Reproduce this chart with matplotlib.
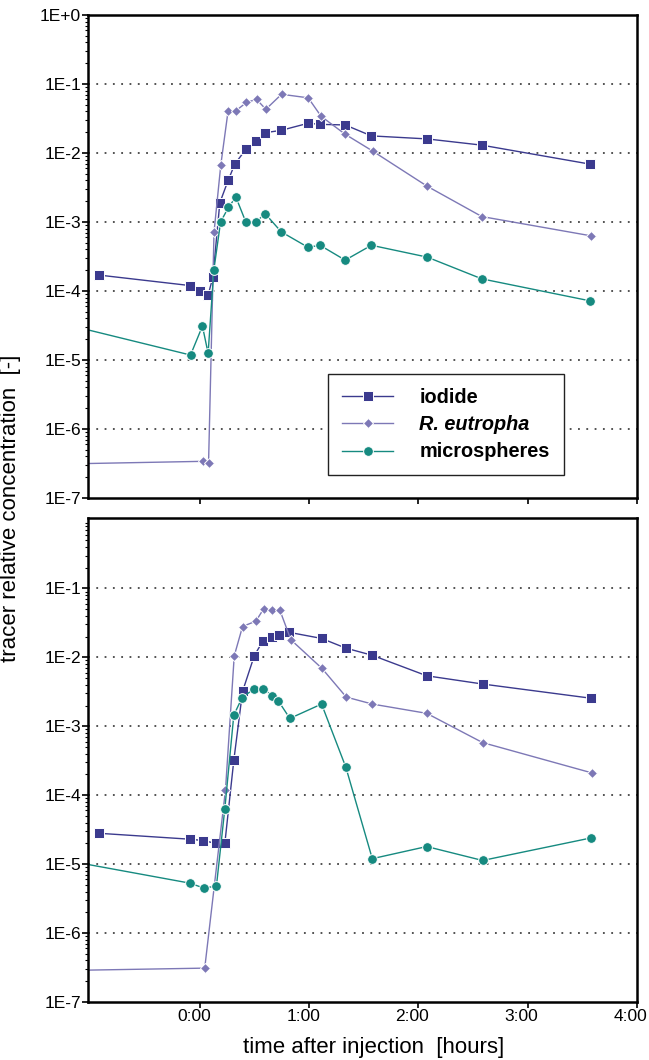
import matplotlib
matplotlib.use('Agg')
import matplotlib.pyplot as plt
import matplotlib.ticker as mticker
from matplotlib.transforms import ScaledTranslation
import numpy as np

plt.rcParams['font.family'] = ['Liberation Sans', 'DejaVu Sans']

# time after injection [hours], relative concentration [-]
# upper panel
iodide_top_t = [-0.92, -0.092, 0.0, 0.076, 0.12, 0.183, 0.259, 0.32, 0.421, 0.513, 0.598,
                0.745, 0.992, 1.10, 1.33, 1.57, 2.08, 2.58, 3.57]
iodide_top = [1.7e-4, 1.2e-4, 1.0e-4, 8.7e-5, 1.6e-4, 1.9e-3, 4.0e-3, 6.9e-3, 1.13e-2, 1.49e-2,
              1.97e-2, 2.13e-2, 2.7e-2, 2.6e-2, 2.55e-2, 1.77e-2, 1.6e-2, 1.3e-2, 6.9e-3]

reut_top_t = [-1.3, 0.03, 0.08, 0.13, 0.192, 0.259, 0.33, 0.427, 0.519, 0.604, 0.748, 0.992,
              1.11, 1.33, 1.58, 2.08, 2.58, 3.58]
reut_top = [3.1e-7, 3.4e-7, 3.2e-7, 7.1e-4, 6.7e-3, 4.1e-2, 4.1e-2, 5.4e-2, 6.0e-2, 4.3e-2,
            7.1e-2, 6.3e-2, 3.4e-2, 1.87e-2, 1.07e-2, 3.3e-3, 1.2e-3, 6.3e-4]

micro_top_t = [-1.3, -0.085, 0.024, 0.076, 0.128, 0.19, 0.262, 0.33, 0.421, 0.513, 0.598,
               0.745, 0.99, 1.10, 1.33, 1.57, 2.08, 2.58, 3.57]
micro_top = [3.5e-5, 1.18e-5, 3.1e-5, 1.25e-5, 2.0e-4, 1.0e-3, 1.63e-3, 2.3e-3, 1.0e-3, 1.0e-3,
             1.32e-3, 7.2e-4, 4.3e-4, 4.6e-4, 2.8e-4, 4.6e-4, 3.1e-4, 1.5e-4, 7.2e-5]

# lower panel
iodide_bot_t = [-0.92, -0.092, 0.03, 0.147, 0.229, 0.311, 0.391, 0.498, 0.574, 0.656, 0.72,
                0.82, 1.114, 1.336, 1.578, 2.076, 2.587, 3.58]
iodide_bot = [2.8e-5, 2.3e-5, 2.2e-5, 2.0e-5, 2.0e-5, 3.2e-4, 3.2e-3, 1.05e-2, 1.7e-2, 2.0e-2,
              2.1e-2, 2.3e-2, 1.88e-2, 1.36e-2, 1.07e-2, 5.4e-3, 4.1e-3, 2.55e-3]

reut_bot_t = [-1.3, 0.045, 0.235, 0.315, 0.391, 0.513, 0.586, 0.665, 0.733, 0.833, 1.118,
              1.34, 1.578, 2.076, 2.587, 3.59]
reut_bot = [2.85e-7, 3.1e-7, 1.2e-4, 1.05e-2, 2.8e-2, 3.35e-2, 5.1e-2, 4.8e-2, 4.8e-2, 1.8e-2,
            6.9e-3, 2.65e-3, 2.1e-3, 1.54e-3, 5.8e-4, 2.1e-4]

micro_bot_t = [-1.3, -0.091, 0.036, 0.152, 0.229, 0.311, 0.387, 0.498, 0.58, 0.665, 0.717,
               0.824, 1.114, 1.336, 1.578, 2.076, 2.587, 3.58]
micro_bot = [1.19e-5, 5.3e-6, 4.5e-6, 4.8e-6, 6.4e-5, 1.45e-3, 2.6e-3, 3.5e-3, 3.5e-3, 2.75e-3,
             2.35e-3, 1.3e-3, 2.1e-3, 2.55e-4, 1.2e-5, 1.8e-5, 1.13e-5, 2.4e-5]

series_names = ['iodide', 'R. eutropha', 'microspheres']
xtick_labels = ['0:00', '1:00', '2:00', '3:00', '4:00']

styles = {
    'iodide': dict(color='#3b3a8e', marker='s', markersize=7),
    'R. eutropha': dict(color='#7d78b6', marker='D', markersize=5.5),
    'microspheres': dict(color='#168a80', marker='o', markersize=7),
}


def decade_label(v, pos):
    return f'1E{int(round(np.log10(v))):+d}'


def setup_axis(ax, yticks, show_xlabels):
    ax.set_yscale('log')
    ax.set_xlim(-1.023, 4.0)
    ax.set_ylim(1e-7, yticks[-1] if yticks[-1] >= 1 else 1.05)
    ax.set_yticks(yticks)
    ax.yaxis.set_major_formatter(mticker.FuncFormatter(decade_label))
    ax.yaxis.set_minor_locator(mticker.LogLocator(base=10, subs=np.arange(2, 10), numticks=20))
    ax.yaxis.set_minor_formatter(mticker.NullFormatter())
    ax.set_xticks(range(5))
    ax.set_xticklabels(xtick_labels if show_xlabels else [])
    ax.tick_params(axis='both', which='major', direction='out', length=4, width=1.2,
                   labelsize=12.5, pad=1)
    ax.tick_params(axis='y', which='minor', direction='out', length=2, width=0.8)
    for s in ax.spines.values():
        s.set_linewidth(1.8)
    for y in [1e-1, 1e-2, 1e-3, 1e-4, 1e-5, 1e-6]:
        ax.axhline(y, color='#444444', lw=1.3, ls=(0, (1, 3.6)), zorder=0)


def plot_panel(ax, data):
    handles = []
    for name, (t, v) in zip(series_names, data):
        st = styles[name]
        h, = ax.plot(t, v, lw=1.0, color=st['color'], marker=st['marker'],
                     markersize=st['markersize'], markerfacecolor=st['color'],
                     markeredgecolor='white', markeredgewidth=0.7, label=name)
        handles.append(h)
    return handles


fig = plt.figure(figsize=(6.49, 10.6), dpi=100)
ax1 = fig.add_axes([88 / 649, 1 - 498 / 1060, 549 / 649, 483 / 1060])
ax2 = fig.add_axes([88 / 649, 1 - 1002 / 1060, 549 / 649, 484 / 1060])

handles = plot_panel(ax1, [(iodide_top_t, iodide_top), (reut_top_t, reut_top),
                           (micro_top_t, micro_top)])
plot_panel(ax2, [(iodide_bot_t, iodide_bot), (reut_bot_t, reut_bot),
                 (micro_bot_t, micro_bot)])

setup_axis(ax1, [1e-7, 1e-6, 1e-5, 1e-4, 1e-3, 1e-2, 1e-1, 1e0], False)
setup_axis(ax2, [1e-7, 1e-6, 1e-5, 1e-4, 1e-3, 1e-2, 1e-1], True)

# tick labels sit a little left of the ticks in the original
shift = ScaledTranslation(-6 / 100, 0, fig.dpi_scale_trans)
for lab in ax2.get_xticklabels():
    lab.set_transform(lab.get_transform() + shift)

leg = ax1.legend(handles=handles, loc='upper left', bbox_to_anchor=(0.437, 0.257),
                 prop={'weight': 'bold', 'size': 14.3}, frameon=True, fancybox=False,
                 edgecolor='#222222', framealpha=1, handlelength=2.6, handletextpad=1.3,
                 labelspacing=0.42, borderpad=0.7, borderaxespad=0)
leg.get_frame().set_linewidth(1.0)
leg.get_texts()[1].set_style('italic')

fig.text(11 / 649, 1 - 508 / 1060, 'tracer relative concentration  [-]', rotation=90,
         ha='center', va='center', fontsize=16)
fig.text(374 / 649, 1 - 1048 / 1060, 'time after injection  [hours]', ha='center',
         va='center', fontsize=16)

fig.savefig('out.png', dpi=100)
